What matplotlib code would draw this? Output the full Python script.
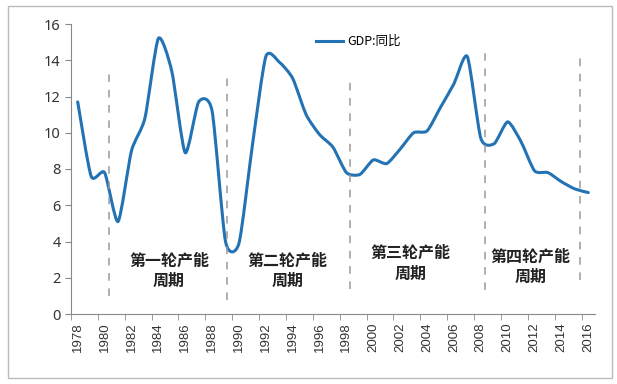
import numpy as np
import matplotlib
matplotlib.use('Agg')
import matplotlib.pyplot as plt
from matplotlib.path import Path
from matplotlib.patches import PathPatch, Rectangle
from matplotlib.lines import Line2D

plt.rcParams['font.family'] = ['Noto Sans CJK SC', 'DejaVu Sans']

# GDP growth, year on year (%)
years = np.arange(1978, 2017)
gdp = [11.7, 7.6, 7.8, 5.1, 9.0, 10.8, 15.2, 13.4, 8.9, 11.7,
       11.2, 4.0, 3.9, 9.3, 14.2, 13.9, 13.0, 11.0, 9.9, 9.2,
       7.8, 7.7, 8.5, 8.3, 9.1, 10.0, 10.1, 11.4, 12.7, 14.2,
       9.7, 9.4, 10.6, 9.5, 7.9, 7.8, 7.3, 6.9, 6.7]

# cycle separators (year position, bottom, top)
sep_x = [1980.35, 1989.1, 1998.3, 2008.3, 2015.4]
sep_lo = [1.0, 0.8, 1.4, 1.3, 1.9]
sep_hi = [13.6, 13.3, 13.2, 14.4, 14.2]

cycle_labels = ['第一轮产能\n周期', '第二轮产能\n周期', '第三轮产能\n周期', '第四轮产能\n周期']
cycle_x = [1984.8, 1993.6, 2002.8, 2011.7]
cycle_y = [2.4, 2.4, 2.8, 2.6]

blue = '#2272b4'

fig = plt.figure(figsize=(6.17, 3.84), dpi=100)
ax = fig.add_axes([71/617, 1 - 314/384, 524/617, 290/384])

# smoothed line like excel: bezier segments through the points
x = years.astype(float)
y = np.array(gdp)
n = len(x)
k = 9.0  # tension
verts = [(x[0], y[0])]
codes = [Path.MOVETO]
for i in range(n - 1):
    p0 = np.array([x[max(i-1, 0)], y[max(i-1, 0)]])
    p1 = np.array([x[i], y[i]])
    p2 = np.array([x[i+1], y[i+1]])
    p3 = np.array([x[min(i+2, n-1)], y[min(i+2, n-1)]])
    c1 = p1 + (p2 - p0) / k
    c2 = p2 - (p3 - p1) / k
    verts += [tuple(c1), tuple(c2), tuple(p2)]
    codes += [Path.CURVE4] * 3
ax.add_patch(PathPatch(Path(verts, codes), fill=False, edgecolor=blue, lw=2.2,
                       capstyle='round', joinstyle='round'))

for sx, lo, hi in zip(sep_x, sep_lo, sep_hi):
    ax.plot([sx, sx], [lo, hi], color='#9a9a9a', lw=1.1, ls=(0, (5, 5)))

for lab, cx, cy in zip(cycle_labels, cycle_x, cycle_y):
    ax.text(cx, cy, lab, ha='center', va='center', fontsize=11.5,
            fontweight='bold', color='#222222', linespacing=1.35)

ax.set_xlim(1977.5, 2016.5)
ax.set_ylim(0, 16)
ax.set_yticks(range(0, 17, 2))
ax.set_yticklabels([str(v) for v in range(0, 17, 2)], fontsize=10.5, family='Noto Sans')
ax.set_xticks(years[::2])
ax.set_xticklabels([str(v) for v in years[::2]], rotation=90, fontsize=9.5,
                   family='Liberation Sans')
ax.set_xticks(np.arange(1977.5, 2017, 2), minor=True)
ax.tick_params(axis='x', which='major', length=0, pad=6, labelcolor='#333333')
ax.tick_params(axis='x', which='minor', length=4, color='#888888', direction='out')
ax.tick_params(axis='y', length=4, color='#888888', labelcolor='#333333')

for s in ['top', 'right']:
    ax.spines[s].set_visible(False)
ax.spines['left'].set_color('#888888')
ax.spines['bottom'].set_color('#888888')

h = Line2D([], [], color=blue, lw=2.2)
ax.legend([h], ['GDP:同比'], loc='upper center', bbox_to_anchor=(0.548, 1.0),
          frameon=False, fontsize=9, handlelength=2.2, handletextpad=0.3)

fig.patches.append(Rectangle((8/617, 6/384), 604/617, 372/384, transform=fig.transFigure,
                             fill=False, edgecolor='#bbbbbb', lw=1))

fig.savefig('out.png', dpi=100)
